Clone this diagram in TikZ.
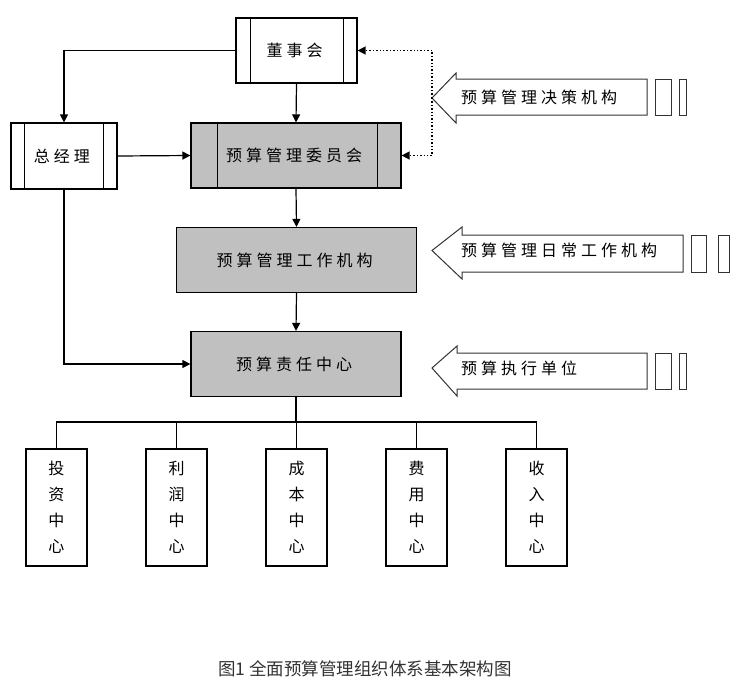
\documentclass[tikz,border=0pt]{standalone}
\usepackage{fontspec}
\setmainfont{Noto Sans CJK SC}
\newfontfamily\cjk{Noto Sans CJK SC}
\usetikzlibrary{arrows.meta}
\newlength{\lsgap}
\setlength{\lsgap}{4pt}
\def\lsA#1{\ifx#1\relax\else#1\hspace{\lsgap}\expandafter\lsA\fi}
\newcommand{\ls}[1]{\lsA#1\relax\hspace{-\lsgap}}
\definecolor{boxgray}{HTML}{C0C0C0}
\definecolor{captxt}{HTML}{333333}
\tikzset{
  base/.style={draw=black, line width=1.2pt, rectangle, inner sep=0pt, font=\cjk\fontsize{16pt}{18pt}\selectfont},
  wbox/.style={base, fill=white},
  gbox/.style={base, fill=boxgray},
  conn/.style={line width=1.2pt, -{Triangle[length=8pt,width=8pt]}},
  plain/.style={line width=1.2pt},
  dotconn/.style={line width=1.4pt, dotted, -{Triangle[length=8pt,width=8pt]}},
  arrowshape/.style={draw=black!80, line width=1pt, fill=white, line join=miter},
  lbl/.style={font=\cjk\fontsize{16pt}{18pt}\selectfont, inner sep=0pt, anchor=west},
  vbox/.style={base, fill=white, minimum width=61pt, minimum height=117pt, align=center, font=\cjk\fontsize{16pt}{26pt}\selectfont},
}
\begin{document}
\begin{tikzpicture}[x=1pt, y=-1pt]
\useasboundingbox (0,0) rectangle (753,689);

% main boxes
\node[wbox, minimum width=121pt, minimum height=65pt] (ds) at (296.5,50.5) {\ls{董事会}};
\node[wbox, minimum width=106pt, minimum height=66pt] (zjl) at (64,156) {\ls{总经理}};
\node[gbox, minimum width=210pt, minimum height=65pt] (wyh) at (296,155.5) {\ls{预算管理委员会}};
\node[gbox, minimum width=240pt, minimum height=65pt] (gz) at (296.5,260) {\ls{预算管理工作机构}};
\node[gbox, minimum width=210pt, minimum height=65pt] (zr) at (296,364) {\ls{预算责任中心}};

% inner side bars
\draw[plain] ([xshift=15pt]ds.north west) -- ([xshift=15pt]ds.south west);
\draw[plain] ([xshift=-14pt]ds.north east) -- ([xshift=-14pt]ds.south east);
\draw[plain] ([xshift=14pt]zjl.north west) -- ([xshift=14pt]zjl.south west);
\draw[plain] ([xshift=-14pt]zjl.north east) -- ([xshift=-14pt]zjl.south east);
\draw[plain] ([xshift=27pt]wyh.north west) -- ([xshift=27pt]wyh.south west);
\draw[plain] ([xshift=-24pt]wyh.north east) -- ([xshift=-24pt]wyh.south east);

% connectors
\draw[conn] (ds.west) -| (zjl.north);
\draw[conn] (ds.south) -- (wyh.north);
\draw[conn] (zjl.east) -- (wyh.west);
\draw[conn] (wyh.south) -- (gz.north);
\draw[conn] (gz.south) -- (zr.north);
\draw[conn] (zjl.south) |- (zr.west);

% bottom boxes
\node[vbox] (c1) at (56.5,507.5) {投\\资\\中\\心};
\node[vbox] (c2) at (176.5,507.5) {利\\润\\中\\心};
\node[vbox] (c3) at (296.5,507.5) {成\\本\\中\\心};
\node[vbox] (c4) at (416.5,507.5) {费\\用\\中\\心};
\node[vbox] (c5) at (536.5,507.5) {收\\入\\中\\心};
\coordinate (bus) at (296,422);
\draw[plain] (zr.south) -- (bus);
\draw[plain] (c1.north) |- (bus) -| (c5.north);
\draw[plain] (c2.north) -- (c2.north |- bus);
\draw[plain] (c3.north) -- (c3.north |- bus);
\draw[plain] (c4.north) -- (c4.north |- bus);

% arrow shape 1: decision
\draw[arrowshape] (432,98) -- (456,73) -- (456,79) -- (647,79) -- (647,115) -- (456,115) -- (456,123) -- cycle;
\draw[arrowshape] (655,79) rectangle (671,115);
\draw[arrowshape] (679,79) rectangle (686,115);
\node[lbl] (t1) at (461,97) {\ls{预算管理决策机构}};
\coordinate (tip1) at (432,98);

% arrow shape 2: daily work
\draw[arrowshape] (432,250.5) -- (462,227) -- (462,235) -- (683,235) -- (683,272) -- (462,272) -- (462,279) -- cycle;
\draw[arrowshape] (691,235) rectangle (706,272);
\draw[arrowshape] (718,235) rectangle (729,272);
\node[lbl] (t2) at (461,250) {\ls{预算管理日常工作机构}};

% arrow shape 3: execution
\draw[arrowshape] (432,368) -- (457,346) -- (457,353) -- (647,353) -- (647,389) -- (457,389) -- (457,396) -- cycle;
\draw[arrowshape] (655,353) rectangle (671,389);
\draw[arrowshape] (679,353) rectangle (686,389);
\node[lbl] (t3) at (461,368) {\ls{预算执行单位}};

% dotted connectors
\draw[dotconn] (tip1) |- (ds.east);
\draw[dotconn] (tip1) |- (wyh.east);

% caption
\node[font=\cjk\fontsize{17.5pt}{20pt}\selectfont, text=captxt, inner sep=0pt] (cap) at (365,669) {图1 全面预算管理组织体系基本架构图};
\end{tikzpicture}
\end{document}
